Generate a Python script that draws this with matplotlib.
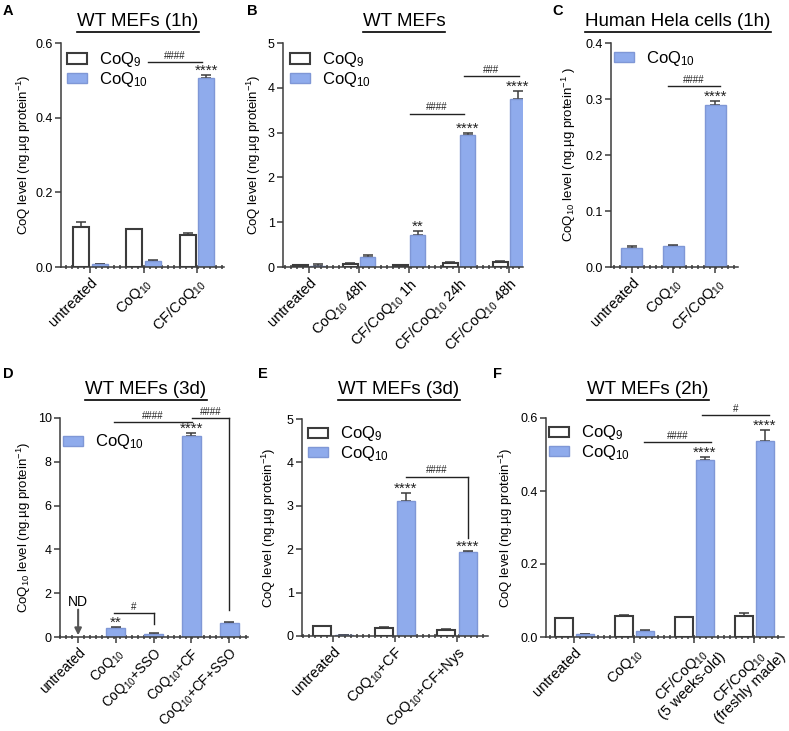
import numpy as np
import matplotlib.pyplot as plt
from matplotlib.lines import Line2D
from matplotlib.ticker import MultipleLocator
from matplotlib.transforms import ScaledTranslation

plt.rcParams['font.family'] = ['Liberation Sans', 'DejaVu Sans']
plt.rcParams['mathtext.fontset'] = 'custom'
plt.rcParams['mathtext.rm'] = 'Liberation Sans'
plt.rcParams['mathtext.it'] = 'Liberation Sans:italic'
plt.rcParams['mathtext.bf'] = 'Liberation Sans:bold'
plt.rcParams['mathtext.default'] = 'regular'

Q9 = 'CoQ$_9$'
Q10 = 'CoQ$_{10}$'

# ---- data ----
a_groups = ['untreated', Q10, 'CF/' + Q10]
a_q9 = [0.107, 0.101, 0.087]
a_q9_err = [0.014, 0.002, 0.004]
a_q10 = [0.008, 0.017, 0.507]
a_q10_err = [0.001, 0.001, 0.008]

b_groups = ['untreated', Q10 + ' 48h', 'CF/' + Q10 + ' 1h', 'CF/' + Q10 + ' 24h', 'CF/' + Q10 + ' 48h']
b_q9 = [0.04, 0.075, 0.04, 0.10, 0.11]
b_q9_err = [0.01, 0.015, 0.01, 0.01, 0.03]
b_q10 = [0.03, 0.22, 0.715, 2.95, 3.74]
b_q10_err = [0.04, 0.04, 0.085, 0.05, 0.19]

c_groups = ['untreated', Q10, 'CF/' + Q10]
c_q10 = [0.034, 0.0375, 0.289]
c_q10_err = [0.003, 0.0015, 0.007]

# untreated group in D was not detected (ND), so it has no bar
d_groups = ['untreated', Q10, Q10 + '+SSO', Q10 + '+CF', Q10 + '+CF+SSO']
d_pos = [1, 2, 3, 4]
d_q10 = [0.42, 0.14, 9.18, 0.63]
d_q10_err = [0.03, 0.02, 0.15, 0.07]

e_groups = ['untreated', Q10 + '+CF', Q10 + '+CF+Nys']
e_q9 = [0.23, 0.18, 0.13]
e_q9_err = [0.0, 0.02, 0.02]
e_q10 = [0.02, 3.12, 1.94]
e_q10_err = [0.0, 0.18, 0.02]

f_groups = ['untreated', Q10, 'CF/' + Q10 + '\n(5 weeks-old)', 'CF/' + Q10 + '\n(freshly made)']
f_q9 = [0.051, 0.058, 0.054, 0.057]
f_q9_err = [0.001, 0.002, 0.002, 0.008]
f_q10 = [0.008, 0.017, 0.486, 0.537]
f_q10_err = [0.001, 0.001, 0.008, 0.029]

BLUE = '#8FABEC'
BLUE_EDGE = '#7F97D6'
DARK = '#3C3C3C'

W, H = 789, 731
fig = plt.figure(figsize=(W / 100, H / 100), dpi=100)


def add_ax(l, t, r, b, xlim, ylim, yticks, ylabel, label_x, groups, xfs=10.5):
    ax = fig.add_axes([l / W, 1 - b / H, (r - l) / W, (b - t) / H])
    ax.set_xlim(*xlim)
    ax.set_ylim(*ylim)
    for s in ['top', 'right']:
        ax.spines[s].set_visible(False)
    for s in ['left', 'bottom']:
        ax.spines[s].set_color(DARK)
        ax.spines[s].set_linewidth(1.1)
    ax.set_yticks(yticks)
    ax.set_xticks(np.arange(len(groups)))
    ax.set_xticklabels(groups, rotation=45, ha='right', rotation_mode='anchor',
                       fontsize=xfs, multialignment='center', linespacing=1.0)
    ppu = (r - l) / (xlim[1] - xlim[0])
    ax.xaxis.set_minor_locator(MultipleLocator(6 / ppu))
    ax.tick_params(axis='x', which='major', length=4, width=1.1, color=DARK, pad=2)
    ax.tick_params(axis='x', which='minor', length=2.2, width=1.1, color=DARK, direction='inout')
    ax.tick_params(axis='y', length=4, width=1.1, color=DARK, labelsize=9, pad=2)
    ax.set_ylabel(ylabel, fontsize=9.5)
    # label_x is the label's centre in pixels; the coordinate is its right edge
    ax.yaxis.set_label_coords((label_x + 6 - l) / (r - l), 0.5)
    return ax


def grouped(ax, q9, q9e, q10, q10e):
    x = np.arange(len(q9))
    b9 = ax.bar(x - 0.175, q9, 0.3, color='white', edgecolor=DARK, linewidth=1.5, zorder=2)
    b10 = ax.bar(x + 0.175, q10, 0.3, color=BLUE, edgecolor=BLUE_EDGE, linewidth=1, zorder=2)
    ax.errorbar(x - 0.175, q9, yerr=[np.zeros(len(q9)), q9e], fmt='none', ecolor=DARK,
                elinewidth=1.1, capsize=3.5, capthick=1.1, zorder=1)
    ax.errorbar(x + 0.175, q10, yerr=[np.zeros(len(q10)), q10e], fmt='none', ecolor=DARK,
                elinewidth=1.1, capsize=3.5, capthick=1.1, zorder=1)
    return b9, b10


def single(ax, x, q10, q10e):
    b = ax.bar(x, q10, 0.5, color=BLUE, edgecolor=BLUE_EDGE, linewidth=1, zorder=2)
    ax.errorbar(x, q10, yerr=[np.zeros(len(q10)), q10e], fmt='none', ecolor=DARK,
                elinewidth=1.1, capsize=3.5, capthick=1.1, zorder=1)
    return b


def legend(ax, handles, labels, xy):
    ax.legend(handles, labels, loc='upper left', bbox_to_anchor=xy, frameon=False,
              fontsize=12, handlelength=1.2, handleheight=0.55, handletextpad=0.7,
              labelspacing=0.05, borderpad=0, borderaxespad=0)


def stars(ax, x, y, s='****'):
    ax.annotate(s, (x, y), xytext=(0, -2), textcoords='offset points', ha='center',
                va='bottom', fontsize=11, color='#222222', annotation_clip=False)


def hline(ax, x0, x1, y, s, drop=None):
    ax.plot([x0, x1], [y, y], color='#222222', lw=1, clip_on=False)
    if drop is not None:
        ax.plot([x1, x1], [y, drop], color='#222222', lw=1, clip_on=False)
    ax.annotate(s, ((x0 + x1) / 2, y), xytext=(0, 1), textcoords='offset points',
                ha='center', va='bottom', fontsize=7, color='#222222', annotation_clip=False)


ylab = 'CoQ level (ng.µg protein$^{-1}$)'

# A
axA = add_ax(61, 43, 224, 267, (-0.55, 2.51), (0, 0.6), [0, 0.2, 0.4, 0.6], ylab, 27, a_groups)
axA.set_yticklabels(['0.0', '0.2', '0.4', '0.6'])
hA = grouped(axA, a_q9, a_q9_err, a_q10, a_q10_err)
legend(axA, hA, [Q9, Q10], (0.037, 0.967))
stars(axA, 2.175, 0.515)
hline(axA, 1.08, 2.1, 0.549, '####')

# B
axB = add_ax(283, 43, 523, 267, (-0.52, 4.28), (0, 5), [0, 1, 2, 3, 4, 5], ylab, 257, b_groups)
hB = grouped(axB, b_q9, b_q9_err, b_q10, b_q10_err)
legend(axB, hB, [Q9, Q10], (0.029, 0.967))
stars(axB, 2.175, 0.80, '**')
stars(axB, 3.175, 3.0)
stars(axB, 4.175, 3.93)
hline(axB, 2.02, 3.1, 3.42, '####')
hline(axB, 3.1, 4.2, 4.26, '###')

# C
axC = add_ax(611, 43, 738, 267, (-0.5, 2.55), (0, 0.4), [0, 0.1, 0.2, 0.3, 0.4],
             'CoQ$_{10}$ level (ng.µg protein$^{-1}$ )', 572, c_groups)
axC.set_yticklabels(['0.0', '0.1', '0.2', '0.3', '0.4'])
hC = single(axC, np.arange(len(c_q10)), c_q10, c_q10_err)
legend(axC, [hC], [Q10], (0.024, 0.975))
stars(axC, 2, 0.296)
hline(axC, 0.87, 2.12, 0.323, '####')

# D
axD = add_ax(60, 418, 248, 637, (-0.48, 4.5), (0, 10), [0, 2, 4, 6, 8, 10],
             'CoQ$_{10}$ level (ng.µg protein$^{-1}$)', 27, d_groups, xfs=9.8)
hD = single(axD, d_pos, d_q10, d_q10_err)
legend(axD, [hD], [Q10], (0.016, 0.934))
stars(axD, 1, 0.45, '**')
stars(axD, 3, 9.33)
hline(axD, 0.95, 2.0, 1.1, '#', drop=0.6)
hline(axD, 0.95, 3.02, 9.8, '####')
hline(axD, 3.02, 4.0, 10.0, '####', drop=1.23)
axD.text(0, 1.3, 'ND', ha='center', va='bottom', fontsize=10)
axD.annotate('', xy=(0, 0.08), xytext=(0, 1.25),
             arrowprops=dict(arrowstyle='-|>', color='#555555', lw=1.5, shrinkA=0, shrinkB=0,
                             mutation_scale=10))

# E
axE = add_ax(302, 419, 488, 636, (-0.5, 2.5), (0, 5), [0, 1, 2, 3, 4, 5], ylab, 272, e_groups)
hE = grouped(axE, e_q9, e_q9_err, e_q10, e_q10_err)
legend(axE, hE, [Q9, Q10], (0.032, 0.975))
stars(axE, 1.175, 3.30)
stars(axE, 2.175, 1.96)
hline(axE, 1.17, 2.17, 3.67, '####', drop=2.26)

# F
axF = add_ax(546, 418, 784, 637, (-0.47, 3.5), (0, 0.6), [0, 0.2, 0.4, 0.6], ylab, 509, f_groups)
axF.set_yticklabels(['0.0', '0.2', '0.4', '0.6'])
hF = grouped(axF, f_q9, f_q9_err, f_q10, f_q10_err)
legend(axF, hF, [Q9, Q10], (0.013, 0.975))
stars(axF, 2.175, 0.494)
stars(axF, 3.175, 0.566)
hline(axF, 1.17, 2.28, 0.534, '####')
hline(axF, 2.13, 3.25, 0.608, '#')
# two-line labels sit a little up-right of their tick in the reference
for lab in axF.get_xticklabels()[2:]:
    lab.set_transform(lab.get_transform() + ScaledTranslation(12 / 100, 8 / 100, fig.dpi_scale_trans))

# panel letters
for s, x, y in [('A', 3, 4), ('B', 247, 4), ('C', 552, 4), ('D', 3, 367), ('E', 258, 367), ('F', 493, 367)]:
    fig.text(x / W, 1 - y / H, s, fontsize=10.5, fontweight='bold', ha='left', va='top')

# titles with underline
titles = [('WT MEFs (1h)', 138, 22), ('WT MEFs', 404, 22), ('Human Hela cells (1h)', 678, 22),
          ('WT MEFs (3d)', 146, 390), ('WT MEFs (3d)', 399, 390), ('WT MEFs (2h)', 648, 390)]
tobjs = [fig.text(x / W, 1 - y / H, s, fontsize=13.5, ha='center', va='center') for s, x, y in titles]
fig.canvas.draw()
for t in tobjs:
    bb = t.get_window_extent()
    yline = bb.y0 - 1
    fig.add_artist(Line2D([bb.x0 / W, bb.x1 / W], [yline / H, yline / H], color='black', lw=1.2))

fig.savefig('out.png', dpi=100)
